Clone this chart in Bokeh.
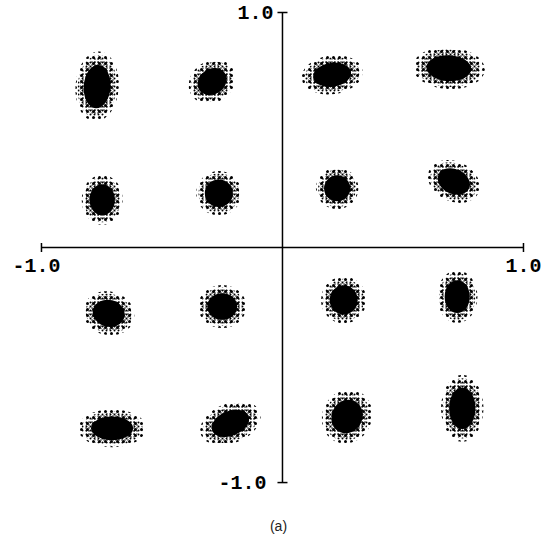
from bokeh.plotting import figure
from bokeh.models import Range1d, Label, ColumnDataSource
from bokeh.core.properties import value
from bokeh.embed import file_html
from bokeh.resources import INLINE

# 16-point constellation: measured cluster centres (in-phase, quadrature)
cluster_x = [-0.769, -0.292, 0.206, 0.690,
             -0.748, -0.264, 0.227, 0.711,
             -0.721, -0.250, 0.254, 0.725,
             -0.707, -0.216, 0.268, 0.746]
cluster_y = [0.685, 0.706, 0.735, 0.763,
             0.203, 0.231, 0.252, 0.281,
             -0.280, -0.251, -0.223, -0.209,
             -0.769, -0.748, -0.719, -0.684]
# spread of each noisy cloud (major / minor extent) and its tilt in degrees
cluster_w = [0.180, 0.205, 0.255, 0.300,
             0.170, 0.188, 0.176, 0.225,
             0.215, 0.200, 0.188, 0.168,
             0.282, 0.262, 0.205, 0.176]
cluster_h = [0.298, 0.175, 0.165, 0.178,
             0.213, 0.190, 0.178, 0.170,
             0.185, 0.183, 0.200, 0.225,
             0.162, 0.170, 0.235, 0.285]
cluster_angle = [-4, 35, 8, -3,
                 0, 0, 0, -25,
                 -15, 0, 0, 0,
                 0, 22, -25, 0]

x_ticks = [-1.0, 1.0]
x_tick_labels = ["-1.0", "1.0"]
y_ticks = [1.0, -1.0]
y_tick_labels = ["1.0", "-1.0"]

p = figure(width=556, height=542, output_backend="svg", toolbar_location=None,
           x_range=Range1d(-1.170, 1.137), y_range=Range1d(-1.255, 1.051),
           x_axis_type=None, y_axis_type=None, min_border=0)
p.grid.visible = False
p.outline_line_color = None
p.background_fill_color = "white"
p.border_fill_color = "white"


def scaled(k):
    return ColumnDataSource(dict(x=cluster_x, y=cluster_y,
                                 w=[v * k for v in cluster_w],
                                 h=[v * k for v in cluster_h], a=cluster_angle))


def cloud_layer(k, **style):
    p.ellipse(x="x", y="y", width="w", height="h", angle="a", angle_units="deg",
              source=scaled(k), line_color=None, **style)


# sparse outer scatter of each cloud
cloud_layer(1.0, fill_color=None, hatch_pattern="dot", hatch_color="black",
            hatch_scale=6, hatch_weight=1.5)
cloud_layer(0.9, fill_color=None, hatch_pattern="dot", hatch_color="black",
            hatch_scale=4, hatch_weight=1.7)
# denser ring
cloud_layer(0.8, fill_color=None, hatch_pattern="dot", hatch_color="black",
            hatch_scale=3, hatch_weight=2.3)
# dark core
cloud_layer(0.62, fill_color="black")

# cross axes through the origin
p.segment(x0=[x_ticks[0], 0], y0=[0, y_ticks[1]], x1=[x_ticks[1], 0], y1=[0, y_ticks[0]],
          line_color="black", line_width=1.5)
p.scatter(x=x_ticks, y=[0, 0], marker="dash", size=9, angle=1.5708,
          line_color="black", line_width=1.5)
p.scatter(x=[0, 0], y=y_ticks, marker="dash", size=10,
          line_color="black", line_width=1.5)

tick_font = value("Liberation Mono")
p.text(x=x_ticks, y=[0, 0], text=x_tick_labels, text_align="center",
       text_baseline="middle", y_offset=18, x_offset=[-5, 0],
       text_font=tick_font, text_font_style="bold", text_font_size="20px",
       text_color="black")
p.text(x=[0, 0], y=y_ticks, text=y_tick_labels, text_align="right",
       text_baseline="middle", x_offset=[-9, -16],
       text_font=tick_font, text_font_style="bold", text_font_size="20px",
       text_color="black")

p.add_layout(Label(x=278, y=17, x_units="screen", y_units="screen", text="(a)",
                   text_align="center", text_baseline="middle",
                   text_font="Liberation Sans", text_font_size="14px",
                   text_color="#222222"))

open("out.html", "w").write(file_html(p, INLINE))
